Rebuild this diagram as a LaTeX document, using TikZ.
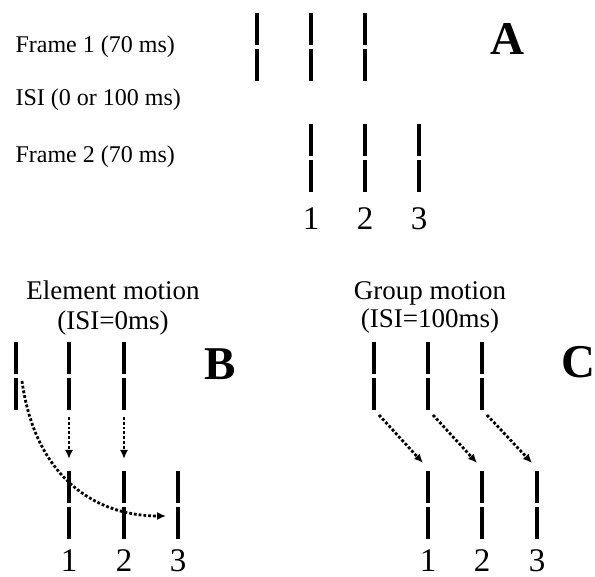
\documentclass[tikz,border=0pt]{standalone}
\usepackage{fontspec}
\setmainfont{Liberation Serif}
\usetikzlibrary{arrows.meta}

\tikzset{
  seg/.style={fill=black, minimum width=3.8pt, minimum height=32pt, inner sep=0pt, outer sep=0pt},
  lbl/.style={anchor=base west, font=\fontsize{24}{28}\selectfont},
  head/.style={anchor=base, font=\fontsize{27}{30}\selectfont},
  num/.style={anchor=base, inner sep=1pt, font=\fontsize{33}{36}\selectfont},
  panel/.style={anchor=base, font=\fontsize{47}{50}\selectfont\bfseries},
  motion/.style={-{Latex[length=9pt,width=8pt]}, line width=2.8pt, dash pattern=on 2.8pt off 2pt},
}
% one bar made of two segments, centred at (#2,#3)
\newcommand{\stimbar}[3]{%
  \node[seg] (#1t) at (#2,#3-18) {};
  \node[seg] (#1b) at (#2,#3+18) {};
}

\begin{document}
\begin{tikzpicture}[x=1pt, y=-1pt]
  \useasboundingbox (0,0) rectangle (595,577);

  % panel A
  \node[lbl] (f1) at (12,53) {Frame 1 (70 ms)};
  \node[lbl] (isi) at (12,106) {ISI (0 or 100 ms)};
  \node[lbl] (f2) at (12,163) {Frame 2 (70 ms)};
  \foreach \i/\x in {1/257,2/311,3/365} {
    \stimbar{A\i}{\x}{47}
  }
  \foreach \i/\x in {1/311,2/365,3/419} {
    \stimbar{F\i}{\x}{158}
    \node[num] (na\i) at (\x,230) {\i};
  }
  \node[panel] (pA) at (507,55) {A};

  % panel B: element motion
  \node[head] (hB) at (113,300) {Element motion};
  \node[head] (sB) at (113,330) {(ISI=0ms)};
  \foreach \i/\x in {1/16,2/69,3/124} {
    \stimbar{B\i}{\x}{376}
  }
  \foreach \i/\x in {1/69,2/124,3/178} {
    \stimbar{E\i}{\x}{505}
    \node[num] (nb\i) at (\x,571) {\i};
  }
  \node[panel] (pB) at (220,380) {B};
  \draw[motion] ([yshift=-7pt]B2b.south) -- ([yshift=12pt]E1t.north);
  \draw[motion] ([yshift=-7pt]B3b.south) -- ([yshift=12pt]E2t.north);
  \draw[motion] ([shift={(6pt,-3pt)}]B1b.north) .. controls +(13,95) and +(-72,0) .. ([shift={(-10pt,7pt)}]E3b.west);

  % panel C: group motion
  \node[head] (hC) at (430,300) {Group motion};
  \node[head] (sC) at (430,328) {(ISI=100ms)};
  \foreach \i/\x in {1/374,2/428,3/482} {
    \stimbar{G\i}{\x}{376}
  }
  \foreach \i/\x in {1/428,2/482,3/537} {
    \stimbar{H\i}{\x}{505}
    \node[num] (nc\i) at (\x,571) {\i};
  }
  \node[panel, anchor=base west] (pC) at (558,378) {C};
  \foreach \i in {1,2,3} {
    \draw[motion] ([shift={(5pt,-5pt)}]G\i b.south) -- ([shift={(-5pt,8pt)}]H\i t.north);
  }
\end{tikzpicture}
\end{document}
